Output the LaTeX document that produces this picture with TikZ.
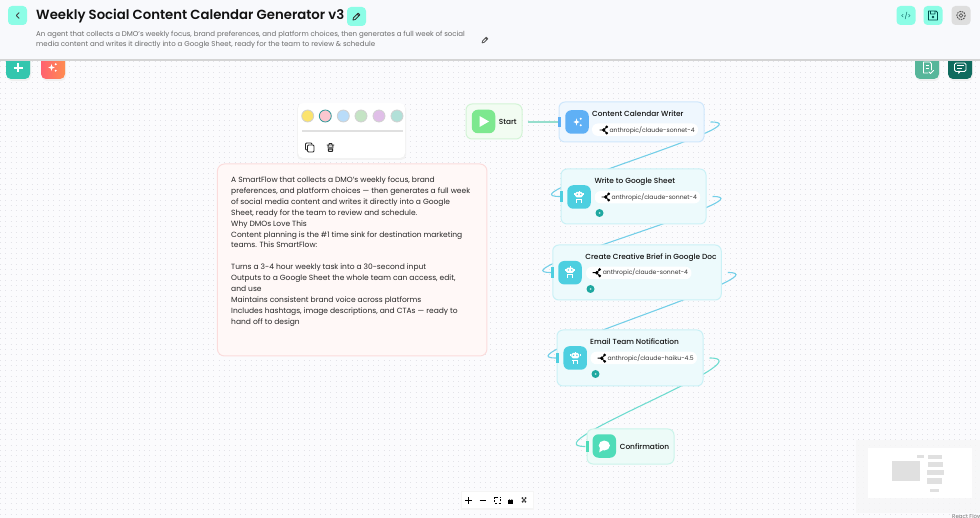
\documentclass[tikz,border=0pt]{standalone}
\usepackage{fontspec}
\setmainfont{Poppins}
\newfontfamily\pmed{Poppins Medium}
\newfontfamily\psemi{Poppins SemiBold}
\usetikzlibrary{calc}
\pgfdeclarelayer{under}
\pgfsetlayers{under,main}
\definecolor{canvas}{HTML}{FBFBFD}
\definecolor{dotc}{HTML}{E3E3E8}
\definecolor{barc}{HTML}{F8F9FC}
\definecolor{mint}{HTML}{8CFDE6}
\definecolor{inkc}{HTML}{111111}
\definecolor{greyt}{HTML}{6A6A6A}
\definecolor{bluec}{HTML}{5FB0F5}
\definecolor{cyanc}{HTML}{4DCFE0}
\definecolor{greenc}{HTML}{7DE88F}
\definecolor{seac}{HTML}{4FDCB8}
\definecolor{edgec}{HTML}{74CFE8}
\definecolor{edged}{HTML}{6FDCD0}
\definecolor{edgea}{HTML}{96DECD}
\definecolor{badgec}{HTML}{1FA8A0}
\definecolor{addc}{HTML}{33C6AE}
\definecolor{corala}{HTML}{FF6270}
\definecolor{coralb}{HTML}{FF8C50}
\definecolor{docc}{HTML}{57B69A}
\definecolor{chatc}{HTML}{0F6B5E}
\definecolor{swa}{HTML}{FBE36E}
\definecolor{swb}{HTML}{FBC7CF}
\definecolor{swc}{HTML}{B9DCF9}
\definecolor{swd}{HTML}{C5E4C5}
\definecolor{swe}{HTML}{E0BFE8}
\definecolor{swf}{HTML}{B2E0D8}
\definecolor{noted}{HTML}{FBDCDC}
\definecolor{notef}{HTML}{FFF8F7}
\definecolor{startd}{HTML}{D3F4D6}
\definecolor{startf}{HTML}{F2FCF2}
\tikzset{
  x=1pt,y=-1pt,
  card/.style={draw=#1!30,line width=1pt,rounded corners=6pt,inner sep=0pt,fill=#1!10!white},
  iconbox/.style={fill=#1,rounded corners=6pt,inner sep=0pt,minimum width=23.5pt,minimum height=23.5pt},
  pillbox/.style={fill=white,rounded corners=6pt,inner sep=0pt,minimum height=12.5pt},
  handlebar/.style={fill=#1,inner sep=0pt,minimum width=3pt,minimum height=10.5pt},
  ctitle/.style={inner sep=0pt,anchor=west,font=\pmed\fontsize{7.4}{9}\selectfont,text=inkc},
  modelt/.style={inner sep=0pt,anchor=west,font=\fontsize{6.1}{8}\selectfont,text=inkc!85},
  btn/.style={fill=#1,rounded corners=4pt,inner sep=0pt,minimum width=19pt,minimum height=19pt},
  badge/.style={circle,fill=badgec,minimum size=8pt,inner sep=0pt},
  edgeline/.style={draw=#1,line width=1.1pt},
  swatch/.style={circle,fill=#1,draw=black!18,line width=.8pt,inner sep=0pt,minimum size=12pt},
  mm/.style={fill=black!12,draw=none},
  ic/.style={line width=.9pt,line cap=round,line join=round},
  pics/robot/.style={code={
    \fill[white,rounded corners=1.5pt] (-3.8,-5) rectangle (3.8,.3);
    \fill[cyanc] (-1.7,-2.7) circle (.8) (1.7,-2.7) circle (.8);
    \draw[white,line width=.9pt] (0,-5) -- (0,-6.3) (-2.8,2) -- (2.8,2) (-2.1,2) -- (-2.1,5.7) (2.1,2) -- (2.1,5.7);
    \draw[white,line width=1pt] (-4.9,-3.5) -- (-4.9,-1.5) (4.9,-3.5) -- (4.9,-1.5);
  }},
  pics/spark/.style={code={
    \fill[white] (-1,-3.6) .. controls (-.7,-1) and (-.4,-.6) .. (2.2,0) .. controls (-.4,.6) and (-.7,1) .. (-1,3.6) .. controls (-1.3,1) and (-1.6,.6) .. (-4.2,0) .. controls (-1.6,-.6) and (-1.3,-1) .. (-1,-3.6) -- cycle;
    \fill[white] (3.2,-3.2) circle (1.1) (3.2,3.2) circle (1.1);
  }},
  pics/branch/.style={code={
    \draw[black,line width=.9pt] (-3.8,0) -- (0,0) -- (3,-3) (0,0) -- (3,3);
    \fill[black] (.2,0) circle (1.9) (3.2,-3.2) circle (1.5) (3.2,3.2) circle (1.5);
  }},
  pics/pencil/.style={code={
    \draw[ic,line width=.8pt,pic actions] (-3.6,3.6) -- (-3,1.2) -- (1.6,-3.4) -- (3.4,-1.6) -- (-1.2,3) -- cycle (.6,-2.4) -- (2.4,-.6);
  }}
}
\begin{document}
\begin{tikzpicture}
\useasboundingbox (0,0) rectangle (980,518);

% ---------- canvas
\begin{pgfonlayer}{under}
\fill[canvas] (0,0) rectangle (980,518);
\foreach \r in {0,...,86}{
  \draw[dotc,line width=.9pt,dash pattern=on .9pt off 4.43pt] (0,{61.5+\r*5.33}) -- (980,{61.5+\r*5.33});
}
\end{pgfonlayer}

% ---------- minimap
\fill[black!3,opacity=.8] (856,440) rectangle (980,513);
\fill[white] (868,448) rectangle (972,498);
\fill[mm] (892,461) rectangle (920,481);
\fill[mm] (917.3,454.7) rectangle (923.5,458.3);
\fill[mm] (927.5,454.5) rectangle (942,458.5);
\fill[mm] (928,461.5) rectangle (942.5,467);
\fill[mm] (926.5,469.5) rectangle (944,475);
\fill[mm] (927,478) rectangle (942,484);
\fill[mm] (930,488.5) rectangle (939,492);
\node[inner sep=0pt,anchor=west,font=\fontsize{5.5}{6}\selectfont,text=black!55] (attr) at (952,516) {React Flow};

% ---------- floating buttons under the bar
\fill[black!6,rounded corners=5pt] (7,52) rectangle (31,81);
\fill[black!6,rounded corners=5pt] (42,52) rectangle (66,81);
\fill[black!6,rounded corners=5pt] (916,52) rectangle (940,81);
\fill[black!6,rounded corners=5pt] (949,52) rectangle (973,81);
\fill[addc,rounded corners=5pt] (6,50) rectangle (30,79);
\shade[left color=corala,right color=coralb,rounded corners=5pt] (41,50) rectangle (65,79);
\fill[docc,rounded corners=5pt] (915,50) rectangle (939,79);
\fill[chatc,rounded corners=5pt] (948,50) rectangle (972,79);
\draw[white,line width=1.2pt] (18,63.5) -- (18,72.5) (13.5,68) -- (22.5,68);
\pic at (52.5,67.5) {spark};
\draw[white,ic] (923.5,62) -- (930,62) -- (931.5,64) -- (931.5,70) (923.5,62) -- (923.5,73) -- (928,73);
\draw[white,line width=.7pt] (925.5,65.5) -- (929,65.5) (925.5,68) -- (929,68);
\draw[white,ic] (929,72) -- (930.5,73.5) -- (933.5,70.5);
\draw[white,ic,rounded corners=1.5pt] (954.5,63) rectangle (966,71.5);
\fill[white] (958,71) -- (961,71) -- (958.5,74) -- cycle;
\draw[white,line width=.7pt] (957,65.8) -- (963.5,65.8) (957,68.3) -- (961.5,68.3);

% ---------- top bar
\fill[barc] (0,0) rectangle (980,59.5);
\fill[black!17] (0,59.5) rectangle (980,60.7);
\node[btn=mint] (back) at (17.5,15.5) {};
\draw[ic,inkc!80,line width=.8pt] (19,12.7) -- (16.3,15.5) -- (19,18.3);
\node[inner sep=0pt,anchor=west,font=\psemi\fontsize{13.25}{15}\selectfont,text=inkc] (title) at (36,16.5) {Weekly Social Content Calendar Generator v3};
\node[btn=mint] (editt) at (356.5,16.5) {};
\pic[draw=black!80] at (356.5,16.5) {pencil};
\node[inner sep=0pt,anchor=west,font=\fontsize{7.03}{10.6}\selectfont,text=greyt,align=left] (desc) at (36,39.7) {An agent that collects a DMO's weekly focus, brand preferences, and platform choices, then generates a full week of social\\media content and writes it directly into a Google Sheet, ready for the team to review \& schedule};
\pic[draw=black!65,scale=.8] at (485,40) {pencil};
\node[btn=mint] (code) at (906,15.5) {};
\node[inner sep=0pt,font=\fontsize{6.5}{7}\selectfont,text=teal!70!black] (codet) at (906,15.5) {</>};
\node[btn=mint] (save) at (933,15.5) {};
\draw[ic,teal!60!black] (928.5,11) -- (936,11) -- (937.5,12.5) -- (937.5,20) -- (928.5,20) -- cycle (930.5,11) -- (930.5,14) -- (935,14) -- (935,11);
\fill[teal!60!black] (933,17) circle (1.3);
\node[btn=black!13] (gear) at (961,15.5) {};
\draw[black!65,line width=1pt,dash pattern=on 1.6pt off .9pt] (961,15.5) circle (4.2);
\draw[black!65,line width=.7pt] (961,15.5) circle (1.8);

% ---------- colour palette
\fill[black!5,rounded corners=5pt] (297,104) rectangle (406,160);
\node[fill=white,rounded corners=5pt,inner sep=0pt,minimum width=107pt,minimum height=55pt] (palette) at (351.5,130.5) {};
\node[swatch=swa] (c1) at (307.7,116) {};
\node[swatch=swb,draw=teal!80] (c2) at (325.3,116) {};
\node[swatch=swc] (c3) at (343.3,116) {};
\node[swatch=swd] (c4) at (361,116) {};
\node[swatch=swe] (c5) at (379,116) {};
\node[swatch=swf] (c6) at (397,116) {};
\fill[black!12] (301.5,130.5) rectangle (403,132);
\draw[ic,black!85,rounded corners=1pt,fill=white] (305.5,143) rectangle (312,150);
\draw[ic,black!85,rounded corners=1pt,fill=white] (307.5,145) rectangle (314,152);
\draw[ic,black!85,rounded corners=.5pt] (327,145) -- (334,145) (329,145) -- (329,143.5) -- (332,143.5) -- (332,145) (328,145) -- (328.5,151.5) -- (332.5,151.5) -- (333,145) (329.8,147) -- (329.8,150) (331.2,147) -- (331.2,150);

% ---------- note
\node[draw=noted,fill=notef,line width=1pt,rounded corners=7pt,inner sep=0pt,minimum width=269.5pt,minimum height=192pt] (note) at (352.2,260) {};
\node[inner sep=0pt,anchor=north west,align=left,font=\fontsize{7.52}{10.9}\selectfont,text=black!85] (notetext) at (231,176.6) {A SmartFlow that collects a DMO's weekly focus, brand\\preferences, and platform choices — then generates a full week\\of social media content and writes it directly into a Google\\Sheet, ready for the team to review and schedule.\\Why DMOs Love This\\Content planning is the \#1 time sink for destination marketing\\teams. This SmartFlow:\\[10.9pt]Turns a 3-4 hour weekly task into a 30-second input\\Outputs to a Google Sheet the whole team can access, edit,\\and use\\Maintains consistent brand voice across platforms\\Includes hashtags, image descriptions, and CTAs — ready to\\hand off to design};

% ---------- flow nodes
\node[draw=startd,fill=startf,line width=1pt,rounded corners=6pt,inner sep=0pt,minimum width=56pt,minimum height=35pt] (start) at (494,121.5) {};
\node[iconbox=greenc] (starti) at (483.5,121.5) {};
\fill[white] (479.5,116) -- (489,121.5) -- (479.5,127) -- cycle;
\node[ctitle] (startt) at (498.7,122) {Start};

\node[card=bluec,minimum width=145pt,minimum height=40pt] (writer) at (631.5,122) {};
\node[handlebar=bluec] (writerh) at (559.8,122) {};
\node[iconbox=bluec] (writeri) at (577,122) {};
\pic at (577.5,122) {spark};
\node[ctitle] (writert) at (592,113.3) {Content Calendar Writer};
\node[pillbox,minimum width=106pt] (writerp) at (645,129.7) {};
\pic at (603.5,130) {branch};
\node[modelt] (writerm) at (609.3,130) {anthropic/claude-sonnet-4};

\node[card=cyanc,minimum width=145pt,minimum height=55pt] (sheet) at (633.5,196.5) {};
\node[handlebar=cyanc] (sheeth) at (561.5,196.5) {};
\node[iconbox=cyanc] (sheeti) at (579,197) {};
\pic at (579,197) {robot};
\node[ctitle] (sheett) at (594.3,181.5) {Write to Google Sheet};
\node[pillbox,minimum width=105.5pt] (sheetp) at (647.5,197.2) {};
\pic at (605.5,197) {branch};
\node[modelt] (sheetm) at (611.5,197) {anthropic/claude-sonnet-4};
\node[badge] (sheetb) at (599.5,213) {};
\fill[white,opacity=.7] (sheetb) circle (1);

\node[card=cyanc,minimum width=168.5pt,minimum height=55pt] (brief) at (637,272.5) {};
\node[handlebar=cyanc] (briefh) at (552.5,272.5) {};
\node[iconbox=cyanc] (briefi) at (570,272.7) {};
\pic at (570,272.7) {robot};
\node[ctitle] (brieft) at (585.2,257.3) {Create Creative Brief in Google Doc};
\node[pillbox,minimum width=105.5pt] (briefp) at (638.7,273) {};
\pic at (596.5,272.7) {branch};
\node[modelt] (briefm) at (602.6,272.7) {anthropic/claude-sonnet-4};
\node[badge] (briefb) at (590.5,289) {};
\fill[white,opacity=.7] (briefb) circle (1);

\node[card=cyanc,minimum width=146pt,minimum height=56pt] (email) at (630,358) {};
\node[handlebar=cyanc] (emailh) at (557.5,358) {};
\node[iconbox=cyanc] (emaili) at (575.2,358) {};
\pic at (575.2,358) {robot};
\node[ctitle] (emailt) at (590,341.9) {Email Team Notification};
\node[pillbox,minimum width=106.5pt] (emailp) at (643.7,358) {};
\pic at (601.5,358.2) {branch};
\node[modelt] (emailm) at (607.5,358.2) {anthropic/claude-haiku-4.5};
\node[badge] (emailb) at (595.5,374) {};
\fill[white,opacity=.7] (emailb) circle (1);

\node[card=seac,minimum width=87pt,minimum height=35pt] (confirm) at (630.5,446.5) {};
\node[handlebar=seac] (confirmh) at (587,446.5) {};
\node[iconbox=seac] (confirmi) at (604.3,446) {};
\fill[white] (604.3,445.5) ellipse (5.6 and 5);
\fill[white] (600,447.5) -- (599.2,452.3) -- (603.5,449.8) -- cycle;
\node[ctitle] (confirmt) at (619.6,446.8) {Confirmation};

% ---------- connectors
\coordinate (s0) at ($(start.east)+(5,.5)$);
\coordinate (s1) at ($(writer.east)+(6,0)$);
\coordinate (s2) at ($(sheet.east)+(6,0)$);
\coordinate (s3) at ($(brief.east)+(6,0)$);
\coordinate (s4) at ($(email.east)+(6,0)$);
\begin{pgfonlayer}{under}
\draw[edgeline=edgea] (s0) -- (writerh);
\draw[edgeline=edgec] (s1) .. controls +(60,0) and +(-60,0) .. (sheeth);
\draw[edgeline=edgec] (s2) .. controls +(60,0) and +(-60,0) .. (briefh);
\draw[edgeline=edgec] (s3) .. controls +(60,0) and +(-60,0) .. (emailh);
\draw[edgeline=edged] (s4) .. controls +(60,0) and +(-60,0) .. (confirmh);
\end{pgfonlayer}

% ---------- zoom toolbar
\fill[black!4] (461,491) rectangle (534,510);
\node[fill=white,inner sep=0pt,minimum width=71pt,minimum height=16pt] (tools) at (497.5,500) {};
\draw[black,line width=.9pt] (468.5,497) -- (468.5,503.5) (465.2,500.2) -- (471.8,500.2) (479.5,500.2) -- (486,500.2);
\draw[black,line width=.8pt,dash pattern=on 2pt off 1.4pt] (494.5,497) rectangle (500.5,503);
\fill[black] (508,499.5) rectangle (513,503.5);
\draw[black,line width=.7pt] (509,499.5) arc[start angle=180,end angle=0,radius=1.5];
\draw[black!80,line width=1.6pt,dash pattern=on 1.5pt off .8pt] (522,497.5) -- (526,502.5) (526,497.5) -- (522,502.5);
\end{tikzpicture}
\end{document}
